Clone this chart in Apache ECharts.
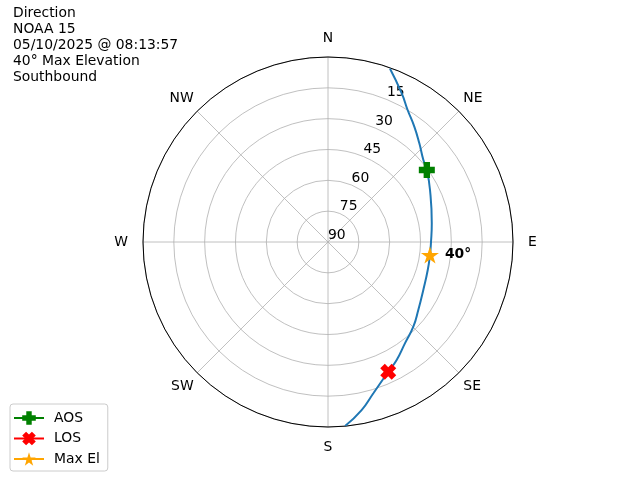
<!DOCTYPE html>
<html>
<head>
<meta charset="utf-8">
<script src="https://cdn.jsdelivr.net/npm/echarts@6/dist/echarts.min.js"></script>
<style>html,body{margin:0;padding:0;background:#fff}#c{width:640px;height:480px}</style>
</head>
<body>
<div id="c"></div>
<script>
// ---- data ----
const titleLines = ['Direction', 'NOAA 15', '05/10/2025 @ 08:13:57', '40° Max Elevation', 'Southbound'];
const compassLabels = ['N', 'NE', 'E', 'SE', 'S', 'SW', 'W', 'NW'];
const elevationTicks = [0, 15, 30, 45, 60, 75, 90];
const passAzimuth = [19.7, 26.4, 31.1, 36.8, 42.8, 49.3, 53.9, 63.0, 79.8, 90.2, 97.3, 105.7, 116.7, 127.0, 134.8, 142.8, 149.8, 155.1, 163.3, 168.7, 174.7];
const passElevation = [0.5, 9.3, 15.0, 19.9, 24.6, 28.8, 30.5, 34.3, 38.7, 39.9, 40.0, 39.6, 38.1, 35.0, 31.5, 28.1, 23.6, 20.4, 13.2, 6.6, 0.1];
const aosPoint = { az: 53.9, el: 30.5 };
const losPoint = { az: 155.1, el: 20.4 };
const maxElPoint = { az: 97.3, el: 40.0 };
const maxElLabel = '40°';

// ---- symbols ----
const plusPath = 'path://M-1,-2.5L1,-2.5L1,-1L2.5,-1L2.5,1L1,1L1,2.5L-1,2.5L-1,1L-2.5,1L-2.5,-1L-1,-1Z';
const xPath = 'path://M1.061,-2.475L2.475,-1.061L1.414,0L2.475,1.061L1.061,2.475L0,1.414L-1.061,2.475L-2.475,1.061L-1.414,0L-2.475,-1.061L-1.061,-2.475L0,-1.414Z';
const starPath = 'path://M0,-1L0.2245,-0.309L0.951,-0.309L0.363,0.118L0.588,0.809L0,0.382L-0.588,0.809L-0.363,0.118L-0.951,-0.309L-0.2245,-0.309Z';

const FONT = 'DejaVu Sans';
const FS = 13.9;
const chart = echarts.init(document.getElementById('c'));
const compassAngles = compassLabels.map((_, i) => i * 45);
const compassRich = ['n', 'ne', 'e', 'se', 's', 'se', 'w', 'ne'];
const richBase = { fontFamily: FONT, fontSize: FS, color: '#000' };

chart.setOption({
  animation: false,
  backgroundColor: '#ffffff',
  title: {
    text: titleLines.join('\n'),
    left: 13, top: 5, padding: 0,
    textStyle: { fontFamily: FONT, fontSize: FS, fontWeight: 'normal', color: '#000', lineHeight: 16 }
  },
  legend: {
    orient: 'vertical', left: 10, bottom: 9,
    padding: [7, 8, 5, 3], itemGap: 6.5, itemWidth: 30, itemHeight: 17,
    borderColor: '#cccccc', borderWidth: 1, borderRadius: 3,
    backgroundColor: 'rgba(255,255,255,0.8)',
    textStyle: { fontFamily: FONT, fontSize: FS, color: '#000', padding: [0, 0, 0, 5] },
    data: ['AOS', 'LOS', 'Max El']
  },
  polar: [
    { center: [328, 242], radius: 185 },
    { center: [328, 242], radius: 185 }
  ],
  angleAxis: [
    {
      polarIndex: 0, type: 'value', min: 0, max: 360, interval: 45,
      startAngle: 90, clockwise: true,
      axisLine: { show: true, lineStyle: { color: '#000', width: 1 } },
      axisTick: { show: false },
      axisLabel: {
        margin: 5,
        fontFamily: FONT, fontSize: FS, color: '#000',
        formatter: v => {
          const i = compassAngles.indexOf(Math.round(v));
          return i >= 0 ? '{' + compassRich[i] + '|' + compassLabels[i] + '}' : '';
        },
        rich: {
          n: Object.assign({ padding: [0, 0, 7, 0] }, richBase),
          s: Object.assign({ padding: [8, 0, 0, 0] }, richBase),
          e: Object.assign({ padding: [0, 0, 0, 10] }, richBase),
          w: Object.assign({ padding: [0, 10, 0, 0] }, richBase),
          ne: Object.assign({ padding: [0, 0, 2, 1] }, richBase),
          se: Object.assign({ padding: [3, 0, 0, 1] }, richBase)
        }
      },
      splitLine: { show: true, lineStyle: { color: '#b0b0b0', width: 0.8 } }
    },
    {
      polarIndex: 1, type: 'value', min: 0, max: 360, startAngle: 67.5, clockwise: true,
      axisLine: { show: false }, axisTick: { show: false }, axisLabel: { show: false }, splitLine: { show: false }
    }
  ],
  radiusAxis: [
    {
      polarIndex: 0, type: 'value', min: elevationTicks[0], max: elevationTicks[elevationTicks.length - 1], interval: 15, inverse: true,
      axisLine: { show: false }, axisTick: { show: false }, axisLabel: { show: false },
      splitLine: { show: true, lineStyle: { color: '#b0b0b0', width: 0.8 } }
    },
    {
      polarIndex: 1, type: 'value', min: elevationTicks[0], max: elevationTicks[elevationTicks.length - 1], interval: 15, inverse: true,
      axisLine: { show: false }, axisTick: { show: false }, splitLine: { show: false },
      axisLabel: {
        show: true, margin: 0, rotate: 0, align: 'left', verticalAlign: 'bottom', padding: 0,
        fontFamily: FONT, fontSize: FS, color: '#000',
        formatter: v => (v === 0 ? '' : String(v))
      }
    }
  ],
  series: [
    {
      name: 'Pass', type: 'line', coordinateSystem: 'polar', polarIndex: 0,
      data: passAzimuth.map((a, i) => [passElevation[i], a]),
      smooth: 0.5, showSymbol: false, symbol: 'none',
      lineStyle: { color: '#1f77b4', width: 2 }, z: 3, silent: true
    },
    {
      name: 'AOS', type: 'line', coordinateSystem: 'polar', polarIndex: 0,
      data: [[aosPoint.el, aosPoint.az]], symbol: plusPath, symbolSize: 16, showSymbol: true,
      itemStyle: { color: '#008000' }, lineStyle: { color: '#008000', width: 2 }, z: 5
    },
    {
      name: 'LOS', type: 'line', coordinateSystem: 'polar', polarIndex: 0,
      data: [[losPoint.el, losPoint.az]], symbol: xPath, symbolSize: 16, showSymbol: true,
      itemStyle: { color: '#ff0000' }, lineStyle: { color: '#ff0000', width: 2 }, z: 5
    },
    {
      name: 'Max El', type: 'line', coordinateSystem: 'polar', polarIndex: 0,
      data: [[maxElPoint.el, maxElPoint.az]], symbol: starPath, symbolSize: [18, 17], showSymbol: true,
      itemStyle: { color: '#ffa500' }, lineStyle: { color: '#ffa500', width: 2 }, z: 5,
      label: {
        show: true, position: 'right', distance: 6, offset: [0, -1],
        formatter: maxElLabel, fontFamily: FONT, fontSize: FS, fontWeight: 'bold', color: '#000'
      }
    }
  ]
});
</script>
</body>
</html>
